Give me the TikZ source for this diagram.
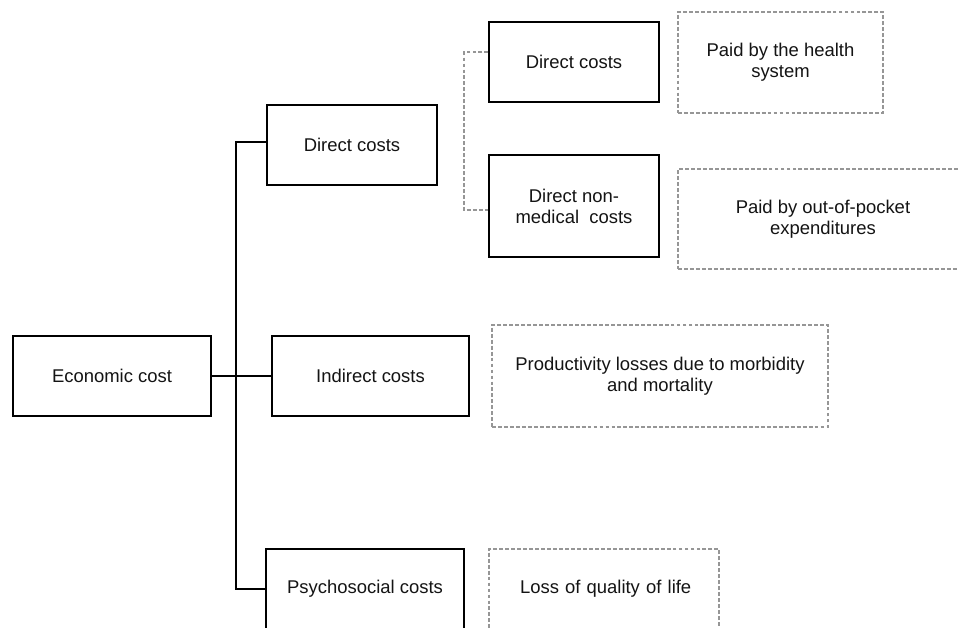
\documentclass[tikz,border=0pt]{standalone}
\usepackage{fontspec}
\setmainfont{Liberation Sans}
\usepackage{tikz}

\definecolor{linegray}{RGB}{150,150,150}
\definecolor{textgray}{RGB}{20,20,20}

\tikzset{
  costbox/.style={draw=black, line width=0.8pt, minimum height=1.6cm, align=center, inner sep=0pt, text=textgray},
  notebox/.style={draw=linegray, dashed, line width=0.7pt, dash pattern=on 2.2pt off 1.2pt, align=center, inner sep=0pt, text=textgray},
  splitline/.style={draw=linegray, line width=0.7pt, dash pattern=on 2.2pt off 1.2pt},
}

\begin{document}
\begin{tikzpicture}[x=0.02cm, y=-0.02cm, font=\fontsize{10.5}{12}\selectfont]
\useasboundingbox (0,0) rectangle (958,627);
\fill[white] (0,0) rectangle (958,627);

% first level
\node[costbox, minimum width=3.96cm] (econ) at (112,376) {Economic cost};
\node[costbox, minimum width=3.4cm] (direct) at (352,145) {Direct costs};
\node[costbox, minimum width=3.94cm] (indirect) at (370.5,376) {Indirect costs};
\node[costbox, minimum width=3.96cm] (psycho) at (365,589) {Psychosocial costs};

% second level
\node[costbox, minimum width=3.4cm] (dcare) at (574,62) {Direct costs};
\node[costbox, minimum width=3.4cm, minimum height=2.04cm] (nonmed) at (574,206) {Direct non-\\medical\ \ costs};

% descriptions
\node[notebox, minimum width=4.1cm, minimum height=2.02cm] (health) at (780.5,62.5) {Paid by the health\\system};
\node[notebox, minimum width=5.8cm, minimum height=2.0cm] (pocket) at (823,219) {Paid by out-of-pocket\\expenditures};
\node[notebox, minimum width=6.72cm, minimum height=2.04cm] (product) at (660,376) {Productivity losses due to morbidity\\and mortality};
\node[notebox, minimum height=1.6cm, inner xsep=0.62cm, text width=3.36cm, align=left] (quality) at (604,589) {\mbox{Loss of quality of life}};

% connectors
\coordinate (trunk) at (236,376);
\coordinate (split) at (464,130);
\draw[line width=0.8pt] (econ.east) -- (indirect.west);
\draw[line width=0.8pt] ([yshift=0.06cm]direct.west) -| (trunk) |- (psycho.west);
\draw[splitline] ([yshift=0.2cm]dcare.west) -| (split) |- ([yshift=-0.08cm]nonmed.west);
\end{tikzpicture}
\end{document}
